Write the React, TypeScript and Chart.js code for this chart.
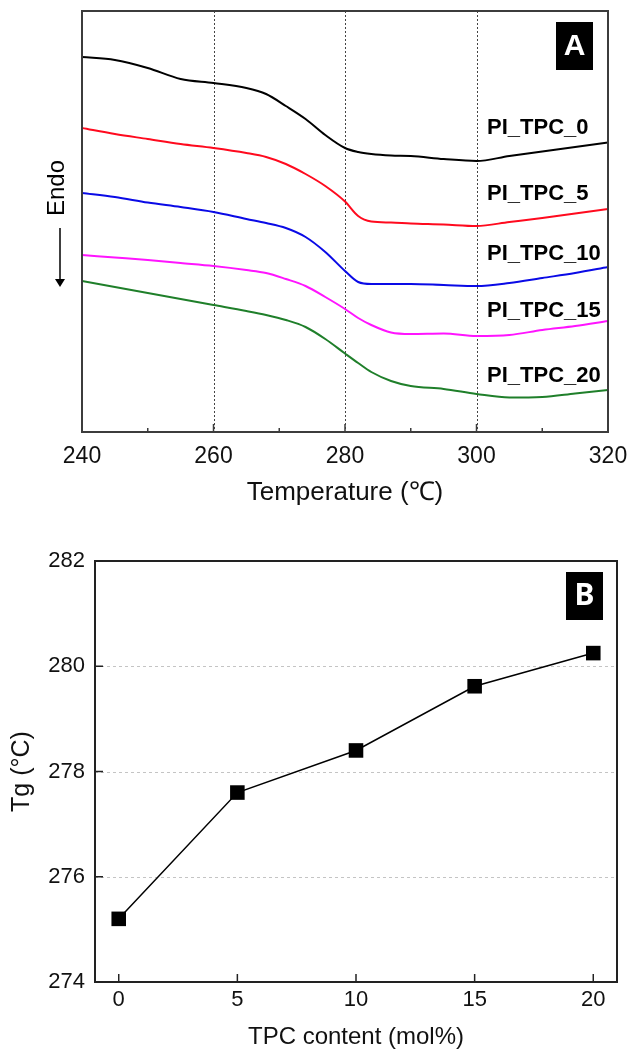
import { useEffect, useRef } from 'react';
import { Chart, registerables } from 'chart.js';

Chart.register(...registerables);

const FONT = '"Liberation Sans", Arial, Helvetica, sans-serif';

// ---------- Panel A : DSC curves ----------
const temperatures = [240, 245, 250, 255, 260, 265, 268, 271, 274, 277, 280, 282, 284, 287, 290, 295, 300, 305, 310, 315, 320];
const seriesNames = ['PI_TPC_0', 'PI_TPC_5', 'PI_TPC_10', 'PI_TPC_15', 'PI_TPC_20'];
const heatFlow0 = [37.5, 37.2, 36.4, 35.3, 34.9, 34.4, 33.8, 32.6, 31.3, 29.7, 28.4, 28.0, 27.8, 27.65, 27.6, 27.3, 27.1, 27.6, 28.05, 28.5, 28.95];
const heatFlow5 = [30.4, 29.8, 29.3, 28.8, 28.4, 27.9, 27.5, 26.8, 25.8, 24.6, 23.05, 21.6, 21.05, 20.95, 20.85, 20.75, 20.6, 21.0, 21.4, 21.85, 22.3];
const heatFlow10 = [23.9, 23.5, 22.95, 22.5, 22.0, 21.3, 20.9, 20.4, 19.5, 18.0, 16.1, 15.0, 14.8, 14.8, 14.8, 14.7, 14.6, 14.9, 15.4, 15.9, 16.5];
const heatFlow15 = [17.7, 17.45, 17.2, 16.9, 16.6, 16.2, 15.9, 15.3, 14.6, 13.5, 12.3, 11.4, 10.7, 9.95, 9.8, 9.85, 9.6, 9.7, 10.2, 10.6, 11.1];
const heatFlow20 = [15.1, 14.5, 13.9, 13.3, 12.7, 12.1, 11.7, 11.2, 10.5, 9.3, 7.85, 6.9, 6.0, 5.1, 4.6, 4.3, 3.8, 3.45, 3.5, 3.85, 4.2];
const seriesColors = ['#000000', '#ff0a1e', '#0a0ae6', '#ff14ff', '#1f7f2a'];
const tempTicks = [240, 260, 280, 300, 320];
const tempMinorTicks = [250, 270, 290, 310];
const guideTemps = [260, 280, 300];

// ---------- Panel B : Tg vs TPC content ----------
const tpcContent = [0, 5, 10, 15, 20];
const tgValues = [275.2, 277.6, 278.4, 279.62, 280.25];
const tpcTicks = [0, 5, 10, 15, 20];
const tgTicks = [274, 276, 278, 280, 282];
const tgGridLines = [276, 278, 280];

const decorA = {
  id: 'decorA',
  beforeDatasetsDraw(chart: any) {
    const { ctx, chartArea: a, scales } = chart;
    ctx.save();
    ctx.strokeStyle = '#444';
    ctx.lineWidth = 1;
    ctx.setLineDash([2, 2]);
    guideTemps.forEach((t) => {
      const x = Math.round(scales.x.getPixelForValue(t)) + 0.5;
      ctx.beginPath();
      ctx.moveTo(x, a.top);
      ctx.lineTo(x, a.bottom);
      ctx.stroke();
    });
    ctx.restore();
  },
  afterDatasetsDraw(chart: any) {
    const { ctx, chartArea: a, scales } = chart;
    ctx.save();
    // frame
    ctx.strokeStyle = '#3c3c3c';
    ctx.lineWidth = 2;
    ctx.strokeRect(a.left, a.top, a.right - a.left, a.bottom - a.top);
    // inward ticks
    ctx.lineWidth = 1.5;
    tempTicks.forEach((t) => {
      const x = scales.x.getPixelForValue(t);
      ctx.beginPath();
      ctx.moveTo(x, a.bottom);
      ctx.lineTo(x, a.bottom - 8);
      ctx.stroke();
    });
    tempMinorTicks.forEach((t) => {
      const x = scales.x.getPixelForValue(t);
      ctx.beginPath();
      ctx.moveTo(x, a.bottom);
      ctx.lineTo(x, a.bottom - 4);
      ctx.stroke();
    });
    // curve labels
    const labelY = [128, 194, 254, 311, 376];
    ctx.fillStyle = '#000';
    ctx.font = `bold 22px ${FONT}`;
    ctx.textAlign = 'left';
    ctx.textBaseline = 'middle';
    seriesNames.forEach((n, i) => ctx.fillText(n, a.left + 405, labelY[i]));
    // panel letter
    ctx.fillStyle = '#000';
    ctx.fillRect(a.right - 52, a.top + 11, 37, 48);
    ctx.fillStyle = '#fff';
    ctx.font = `bold 30px ${FONT}`;
    ctx.textAlign = 'center';
    ctx.fillText('A', a.right - 33.5, a.top + 36);
    // Endo + arrow
    ctx.fillStyle = '#000';
    ctx.save();
    ctx.translate(a.left - 25, 188);
    ctx.rotate(-Math.PI / 2);
    ctx.font = `24px ${FONT}`;
    ctx.textAlign = 'center';
    ctx.textBaseline = 'middle';
    ctx.fillText('Endo', 0, 0);
    ctx.restore();
    ctx.strokeStyle = '#000';
    ctx.lineWidth = 1.5;
    ctx.beginPath();
    ctx.moveTo(a.left - 22, 228);
    ctx.lineTo(a.left - 22, 281);
    ctx.stroke();
    ctx.beginPath();
    ctx.moveTo(a.left - 27, 279);
    ctx.lineTo(a.left - 17, 279);
    ctx.lineTo(a.left - 22, 287);
    ctx.closePath();
    ctx.fill();
    ctx.restore();
  },
};

const decorB = {
  id: 'decorB',
  beforeDatasetsDraw(chart: any) {
    const { ctx, chartArea: a, scales } = chart;
    ctx.save();
    ctx.strokeStyle = '#c4c4c4';
    ctx.lineWidth = 1;
    ctx.setLineDash([3, 3]);
    tgGridLines.forEach((v) => {
      const y = Math.round(scales.y.getPixelForValue(v)) + 0.5;
      ctx.beginPath();
      ctx.moveTo(a.left, y);
      ctx.lineTo(a.right, y);
      ctx.stroke();
    });
    ctx.restore();
  },
  afterDatasetsDraw(chart: any) {
    const { ctx, chartArea: a, scales } = chart;
    ctx.save();
    ctx.strokeStyle = '#222';
    ctx.lineWidth = 2;
    ctx.strokeRect(a.left, a.top, a.right - a.left, a.bottom - a.top);
    ctx.lineWidth = 1.5;
    tpcTicks.forEach((t) => {
      const x = scales.x.getPixelForValue(t);
      ctx.beginPath();
      ctx.moveTo(x, a.bottom);
      ctx.lineTo(x, a.bottom - 8);
      ctx.stroke();
    });
    tgTicks.forEach((v) => {
      const y = scales.y.getPixelForValue(v);
      ctx.beginPath();
      ctx.moveTo(a.left, y);
      ctx.lineTo(a.left + 8, y);
      ctx.stroke();
    });
    ctx.fillStyle = '#000';
    ctx.fillRect(a.right - 51, a.top + 11, 37, 48);
    ctx.fillStyle = '#fff';
    ctx.font = `bold 30px "Noto Sans", "Open Sans", sans-serif`;
    ctx.textAlign = 'center';
    ctx.textBaseline = 'middle';
    ctx.fillText('B', a.right - 32.5, a.top + 35);
    ctx.restore();
  },
};

export default function App() {
  const refA = useRef<HTMLCanvasElement>(null);
  const refB = useRef<HTMLCanvasElement>(null);

  useEffect(() => {
    const seriesList = [heatFlow0, heatFlow5, heatFlow10, heatFlow15, heatFlow20];
    const chartA = new Chart(refA.current as HTMLCanvasElement, {
      type: 'line',
      data: {
        datasets: seriesList.map((vals, i) => ({
          label: seriesNames[i],
          data: temperatures.map((t, j) => ({ x: t, y: vals[j] })),
          borderColor: seriesColors[i],
          borderWidth: 2,
          pointRadius: 0,
          fill: false,
          cubicInterpolationMode: 'monotone' as const,
        })),
      },
      options: {
        responsive: false,
        animation: false,
        events: [],
        layout: { padding: { left: 82, right: 22, top: 11, bottom: 0 } },
        plugins: { legend: { display: false }, tooltip: { enabled: false } },
        scales: {
          x: {
            type: 'linear',
            min: 240,
            max: 320,
            afterBuildTicks: (s: any) => {
              s.ticks = tempTicks.map((v) => ({ value: v }));
            },
            afterFit: (s: any) => {
              s.height = 88;
              s.paddingLeft = 0;
              s.paddingRight = 0;
            },
            grid: { display: false, drawTicks: false },
            border: { display: false },
            ticks: { font: { family: FONT, size: 23 }, color: '#111', padding: 11, maxRotation: 0 },
            title: {
              display: true,
              text: 'Temperature (℃)',
              font: { family: FONT, size: 26 },
              color: '#111',
              padding: { top: 0, bottom: 12 },
            },
          },
          y: { type: 'linear', display: false, min: 0, max: 42.1 },
        },
      },
      plugins: [decorA],
    } as any);

    const chartB = new Chart(refB.current as HTMLCanvasElement, {
      type: 'line',
      data: {
        datasets: [
          {
            label: 'Tg',
            data: tpcContent.map((x, i) => ({ x, y: tgValues[i] })),
            borderColor: '#000',
            borderWidth: 1.5,
            pointStyle: 'rect',
            pointRadius: 10.3,
            pointBackgroundColor: '#000',
            pointBorderColor: '#000',
            pointBorderWidth: 0,
            tension: 0,
            fill: false,
          },
        ],
      },
      options: {
        responsive: false,
        animation: false,
        events: [],
        layout: { padding: { left: 0, right: 13, top: 41, bottom: 0 } },
        plugins: { legend: { display: false }, tooltip: { enabled: false } },
        scales: {
          x: {
            type: 'linear',
            min: -1,
            max: 21,
            afterBuildTicks: (s: any) => {
              s.ticks = tpcTicks.map((v) => ({ value: v }));
            },
            afterFit: (s: any) => {
              s.height = 70;
              s.paddingLeft = 0;
              s.paddingRight = 0;
            },
            grid: { display: false, drawTicks: false },
            border: { display: false },
            ticks: { font: { family: FONT, size: 22 }, color: '#111', padding: 5, maxRotation: 0 },
            title: {
              display: true,
              text: 'TPC content (mol%)',
              font: { family: FONT, size: 24 },
              color: '#111',
              padding: { top: 0, bottom: 0 },
            },
          },
          y: {
            type: 'linear',
            min: 274,
            max: 282,
            afterBuildTicks: (s: any) => {
              s.ticks = tgTicks.map((v) => ({ value: v }));
            },
            afterFit: (s: any) => {
              s.width = 95;
            },
            grid: { display: false, drawTicks: false },
            border: { display: false },
            ticks: { font: { family: FONT, size: 22 }, color: '#111', padding: 10 },
            title: {
              display: true,
              text: 'Tg (°C)',
              font: { family: FONT, size: 25 },
              color: '#111',
              padding: { top: 7, bottom: 0 },
            },
          },
        },
      },
      plugins: [decorB],
    } as any);

    return () => {
      chartA.destroy();
      chartB.destroy();
    };
  }, []);

  return (
    <div style={{ position: 'absolute', left: 0, top: 0, width: 630, height: 1052, overflow: 'hidden', background: '#fff' }}>
      <canvas ref={refA} width={630} height={520} style={{ position: 'absolute', left: 0, top: 0, display: 'block' }} />
      <canvas ref={refB} width={630} height={532} style={{ position: 'absolute', left: 0, top: 520, display: 'block' }} />
    </div>
  );
}
